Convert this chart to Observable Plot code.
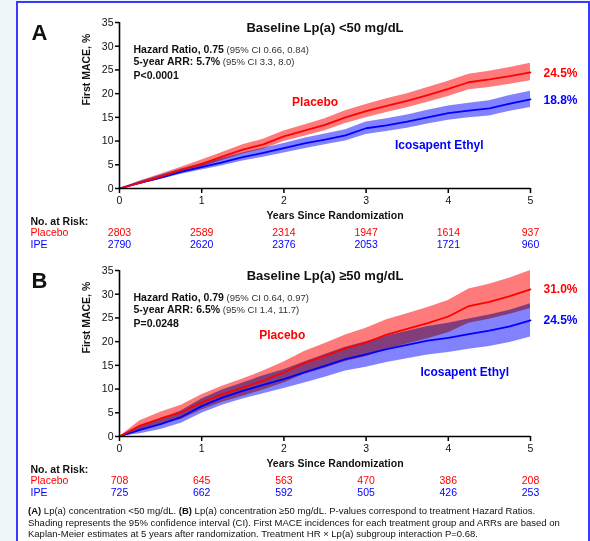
<!DOCTYPE html>
<html><head><meta charset="utf-8">
<script src="https://cdn.jsdelivr.net/npm/d3@7"></script>
<script src="https://cdn.jsdelivr.net/npm/@observablehq/plot@0.6"></script>
<style>
html,body{margin:0;padding:0;background:#edf5f8;width:590px;height:541px;overflow:hidden;font-family:"Liberation Sans",Arial,sans-serif;}
#box{position:absolute;left:16px;top:1px;width:574px;height:580px;border:2px solid #3a3aff;background:#fff;box-sizing:border-box;}
.panel{position:absolute;left:0;}
#caption{position:absolute;left:28px;top:505px;font-size:9.5px;line-height:11.5px;color:#111;white-space:nowrap;}
</style></head><body>
<div id="box"></div>
<div id="pa" class="panel" style="top:0px"></div>
<div id="pb" class="panel" style="top:250px"></div>
<div id="caption"><b>(A)</b> Lp(a) concentration &lt;50 mg/dL. <b>(B)</b> Lp(a) concentration ≥50 mg/dL. P-values correspond to treatment Hazard Ratios.<br>Shading represents the 95% confidence interval (CI). First MACE incidences for each treatment group and ARRs are based on<br>Kaplan-Meier estimates at 5 years after randomization. Treatment HR × Lp(a) subgroup interaction P=0.68.</div>
<script>
// ---- data ----
const years = [0,0.25,0.5,0.75,1,1.25,1.5,1.75,2,2.25,2.5,2.75,3,3.25,3.5,3.75,4,4.25,4.5,4.75,5];
const tickYears = [0,1,2,3,4,5];
const yTicks = [0,5,10,15,20,25,30,35];

const placeboA   = [0,1.2,2.5,3.9,5.2,6.7,8.2,9.3,11.0,12.2,13.4,15.0,16.3,17.4,18.5,19.7,21.0,22.4,23.0,23.7,24.5];
const placeboALo = [0,0.9,2.0,3.3,4.5,5.9,7.3,8.3,9.9,11.0,12.2,13.7,14.9,16.0,17.0,18.2,19.4,20.8,21.3,22.0,22.7];
const placeboAHi = [0,1.6,3.0,4.5,6.0,7.6,9.2,10.4,12.1,13.4,14.7,16.4,17.7,18.9,20.0,21.3,22.6,24.1,24.7,25.5,26.4];
const ipeA   = [0,1.2,2.3,3.5,4.5,5.5,6.6,7.5,8.5,9.5,10.3,11.2,12.7,13.3,14.1,15.0,15.9,16.4,16.9,17.9,18.8];
const ipeALo = [0,0.9,1.9,3.0,3.9,4.8,5.8,6.6,7.5,8.4,9.2,10.0,11.4,12.0,12.7,13.6,14.4,14.9,15.3,16.3,17.1];
const ipeAHi = [0,1.5,2.8,4.1,5.2,6.3,7.5,8.5,9.5,10.6,11.5,12.4,14.0,14.7,15.5,16.5,17.4,18.0,18.5,19.6,20.5];

const placeboB   = [0,2.3,3.8,5.1,7.2,8.9,10.3,11.8,13.5,15.5,17.0,18.6,19.8,21.5,22.7,23.9,25.3,27.5,28.4,29.6,31.0];
const placeboBLo = [0,1.3,2.5,3.6,5.6,7.2,8.5,9.8,11.3,13.1,14.4,15.8,16.8,18.4,19.5,20.6,21.9,23.9,24.7,25.8,27.0];
const placeboBHi = [0,3.3,5.1,6.6,8.8,10.6,12.1,13.8,15.7,17.9,19.6,21.4,22.8,24.6,25.9,27.2,28.7,31.1,32.1,33.4,35.0];
const ipeB   = [0,1.4,2.6,4.1,6.4,8.2,9.6,10.9,12.1,13.5,14.9,16.3,17.3,18.4,19.3,20.2,20.8,21.6,22.3,23.2,24.5];
const ipeBLo = [0,0.6,1.5,2.8,4.9,6.6,7.9,9.0,10.1,11.3,12.5,13.8,14.6,15.6,16.4,17.2,17.7,18.4,19.0,19.8,21.0];
const ipeBHi = [0,2.2,3.7,5.4,7.9,9.8,11.3,12.8,14.1,15.7,17.3,18.8,20.0,21.2,22.2,23.2,23.9,24.8,25.6,26.6,28.0];

const riskPlaceboA = [2803,2589,2314,1947,1614,937];
const riskIpeA     = [2790,2620,2376,2053,1721,960];
const riskPlaceboB = [708,645,563,470,386,208];
const riskIpeB     = [725,662,592,505,426,253];

const titles = ["Baseline Lp(a) <50 mg/dL", "Baseline Lp(a) \u226550 mg/dL"];
const letters = ["A", "B"];
const hrBold = ["Hazard Ratio, 0.75", "Hazard Ratio, 0.79"];
const hrCI = [" (95% CI 0.66, 0.84)", " (95% CI 0.64, 0.97)"];
const arrBold = ["5-year ARR: 5.7%", "5-year ARR: 6.5%"];
const arrCI = [" (95% CI 3.3, 8.0)", " (95% CI 1.4, 11.7)"];
const pValues = ["P<0.0001", "P=0.0248"];
const endPlacebo = ["24.5%", "31.0%"];
const endIpe = ["18.8%", "24.5%"];
const groupNames = ["Placebo", "IPE"];
const riskHeader = "No. at Risk:";
const xTitle = "Years Since Randomization";
const yTitle = "First MACE, %";
const seriesLabels = ["Placebo", "Icosapent Ethyl"];

const RED = "#ff0000", BLUE = "#0000ff";
const FONT = "'Liberation Sans', Arial, sans-serif";

function rows(v, lo, hi) { return years.map((t, i) => ({t, v: v[i], lo: lo[i], hi: hi[i]})); }

function panel(k, P, I, riskP, riskI, cfg) {
  const last = years.length - 1;
  const risk = tickYears.map((t, i) => ({t, p: riskP[i], q: riskI[i]}));
  const svg = Plot.plot({
    width: 590, height: 260,
    marginTop: cfg.mt, marginBottom: 260 - cfg.mt - 166, marginLeft: 119, marginRight: 60,
    style: {fontFamily: FONT, fontSize: "10.5px", color: "#111", background: "transparent", overflow: "visible"},
    x: {domain: [0, 5]},
    y: {domain: [0, 35]},
    marks: [
      Plot.areaY(I, {x: "t", y1: "lo", y2: "hi", fill: "#8282ff", mixBlendMode: "multiply"}),
      Plot.areaY(P, {x: "t", y1: "lo", y2: "hi", fill: "#ff7a7a", mixBlendMode: "multiply"}),
      Plot.line(I, {x: "t", y: "v", stroke: BLUE, strokeWidth: 1.8}),
      Plot.line(P, {x: "t", y: "v", stroke: RED, strokeWidth: 1.8}),
      Plot.ruleY([0], {stroke: "#000", strokeWidth: 1.6}),
      Plot.ruleX([0], {y1: 0, y2: 35, stroke: "#000", strokeWidth: 1.6}),
      Plot.axisX({ticks: tickYears, tickFormat: d => d, tickSize: 5, tickPadding: 3, label: null, stroke: "#000", strokeWidth: 1.5, fontSize: 10.5}),
      Plot.axisY({ticks: yTicks, tickFormat: d => d, tickSize: 4, tickPadding: 2, label: null, stroke: "#000", strokeWidth: 1.5, fontSize: 10.5}),
      // titles
      Plot.text([titles[k]], {text: d => d, frameAnchor: "top", lineAnchor: "middle", dy: cfg.titleDy, fontSize: 13, fontWeight: "bold"}),
      Plot.text([letters[k]], {text: d => d, frameAnchor: "top-left", textAnchor: "start", lineAnchor: "middle", dx: -88, dy: 10, fontSize: 22, fontWeight: "bold"}),
      Plot.text([hrBold[k]], {text: d => d, frameAnchor: "top-left", textAnchor: "start", lineAnchor: "middle", dx: 14, dy: 27, fontSize: 10.5, fontWeight: "bold"}),
      Plot.text([arrBold[k]], {text: d => d, frameAnchor: "top-left", textAnchor: "start", lineAnchor: "middle", dx: 14, dy: 39.5, fontSize: 10.5, fontWeight: "bold"}),
      Plot.text([pValues[k]], {text: d => d, frameAnchor: "top-left", textAnchor: "start", lineAnchor: "middle", dx: 14, dy: 53, fontSize: 10.5, fontWeight: "bold"}),
      // series labels
      Plot.text([seriesLabels[0]], {text: d => d, x: () => cfg.plx, y: () => cfg.ply, fill: RED, fontSize: 12, fontWeight: "bold"}),
      Plot.text([seriesLabels[1]], {text: d => d, x: () => cfg.ilx, y: () => cfg.ily, fill: BLUE, fontSize: 12, fontWeight: "bold"}),
      Plot.text([P[last]], {x: "t", y: "v", text: () => endPlacebo[k], textAnchor: "start", dx: 13, dy: cfg.endDy, fill: RED, fontSize: 12, fontWeight: "bold"}),
      Plot.text([I[last]], {x: "t", y: "v", text: () => endIpe[k], textAnchor: "start", dx: 13, dy: cfg.endDy, fill: BLUE, fontSize: 12, fontWeight: "bold"}),
      // axis titles
      Plot.text([xTitle], {text: d => d, frameAnchor: "bottom", lineAnchor: "middle", dx: 10, dy: 27, fontSize: 10.5, fontWeight: "bold"}),
      Plot.text([yTitle], {text: d => d, frameAnchor: "left", lineAnchor: "middle", rotate: -90, dx: -33, fontSize: 10.5, fontWeight: "bold"}),
      // risk table
      Plot.text([riskHeader], {text: d => d, frameAnchor: "bottom-left", textAnchor: "start", lineAnchor: "middle", dx: -89, dy: 33, fontSize: 10.5, fontWeight: "bold"}),
      Plot.text([groupNames[0]], {text: d => d, frameAnchor: "bottom-left", textAnchor: "start", lineAnchor: "middle", dx: -89, dy: 44.5, fontSize: 10.5, fill: RED}),
      Plot.text([groupNames[1]], {text: d => d, frameAnchor: "bottom-left", textAnchor: "start", lineAnchor: "middle", dx: -89, dy: 56, fontSize: 10.5, fill: BLUE}),
      Plot.text(risk, {x: "t", text: d => String(d.p), frameAnchor: "bottom", lineAnchor: "middle", dy: 44.5, fontSize: 10.5, fill: RED}),
      Plot.text(risk, {x: "t", text: d => String(d.q), frameAnchor: "bottom", lineAnchor: "middle", dy: 56, fontSize: 10.5, fill: BLUE})
    ]
  });
  const addCI = (bold, s) => {
    svg.querySelectorAll("text").forEach(el => {
      if (el.textContent === bold) {
        d3.select(el).append("tspan").attr("font-weight", "normal").attr("font-size", "9.5px").attr("fill", "#333").text(s);
      }
    });
  };
  addCI(hrBold[k], hrCI[k]);
  addCI(arrBold[k], arrCI[k]);
  return svg;
}

document.getElementById("pa").appendChild(panel(0,
  rows(placeboA, placeboALo, placeboAHi), rows(ipeA, ipeALo, ipeAHi), riskPlaceboA, riskIpeA,
  {mt: 22, titleDy: 5.5, plx: 2.38, ply: 18.2, ilx: 3.89, ily: 9.1, endDy: 1}));
document.getElementById("pb").appendChild(panel(1,
  rows(placeboB, placeboBLo, placeboBHi), rows(ipeB, ipeBLo, ipeBHi), riskPlaceboB, riskIpeB,
  {mt: 20, titleDy: 5, plx: 1.98, ply: 21.3, ilx: 4.2, ily: 13.6, endDy: 0}));
</script>
</body></html>
